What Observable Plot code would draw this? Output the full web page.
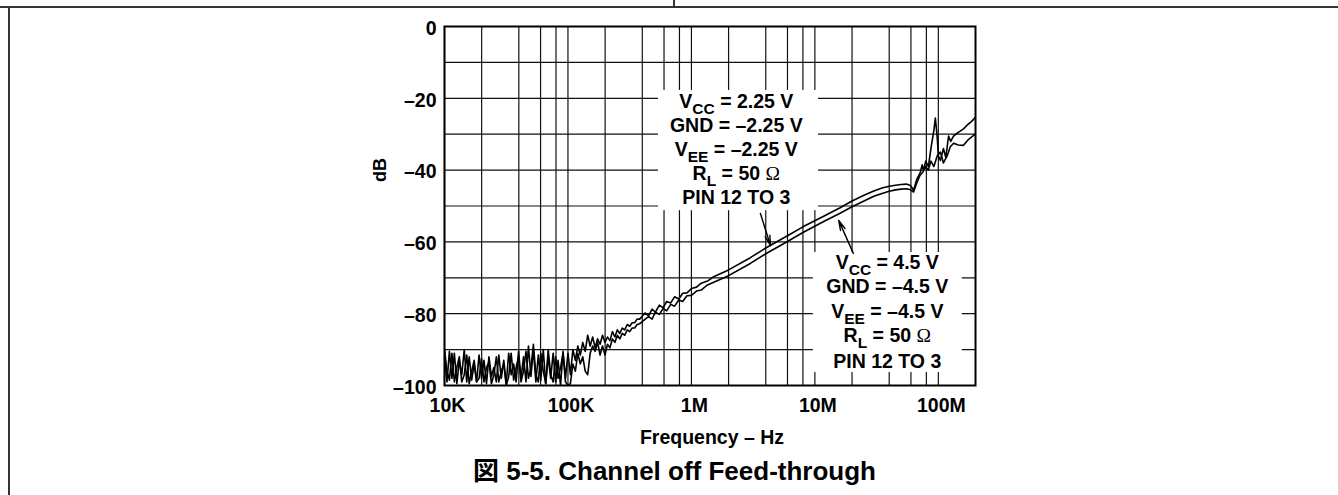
<!DOCTYPE html>
<html><head><meta charset="utf-8">
<script src="https://cdn.jsdelivr.net/npm/d3@7"></script>
<script src="https://cdn.jsdelivr.net/npm/@observablehq/plot@0.6"></script>
<style>
body{margin:0;background:#fff;}
#wrap{position:relative;width:1338px;height:495px;overflow:hidden;background:#fff;}
#wrap svg{position:absolute;left:0;top:0;}
.bl{position:absolute;background:#333;z-index:2;}
</style></head><body>
<div id="wrap">
<div class="bl" style="left:0;top:6px;width:1338px;height:1.5px"></div>
<div class="bl" style="left:8px;top:6px;width:1.5px;height:489px"></div>
<div class="bl" style="left:673px;top:0;width:1.5px;height:7px"></div>
</div>
<script>
// ---- data ----
const xTickVals = [1e4, 1e5, 1e6, 1e7, 1e8];
const xTickLabels = ["10K", "100K", "1M", "10M", "100M"];
const yTickVals = [0, -20, -40, -60, -80, -100];
const yTickLabels = ["0", "–20", "–40", "–60", "–80", "–100"];
const xGrid = [1e4,2e4,4e4,6e4,8e4,1e5,2e5,4e5,6e5,8e5,1e6,2e6,4e6,6e6,8e6,1e7,2e7,4e7,6e7,8e7,1e8];
const yGrid = [-90,-80,-70,-60,-50,-40,-30,-20,-10];

const noiseFreq = [10000,10470,10960,11480,12020,12590,13180,13800,14450,15140,
15850,16600,17380,18200,19050,19950,20890,21880,22910,23990,
25120,26300,27540,28840,30200,31620,33110,34670,36310,38020,
39810,41690,43650,45710,47860,50120,52480,54950,57540,60260,
63100,66070,69180,72440,75860,79430,83180,87100,91200,95500,
100000,104700,109600,114800,120200,125900,131800,138000,144500,151400,
158500,166000,173800,182000,190500,199500,208900,218800,229100,239900,
251200,263000,275400,288400,302000,316200,331100,346700,363100,380200,398100];
const noiseA = [-92,-99,-90.5,-98,-91,-99.5,-93,-97,-90,-99,
-92,-98.5,-94,-99,-91.5,-98,-93,-99.5,-92,-97.5,
-95,-99,-91.5,-98,-93,-99.5,-91,-97,-94,-99,
-90.5,-98,-92,-99,-89,-97.5,-90,-99,-91.5,-98.5,
-90,-99.5,-92,-98,-91,-99,-93,-100,-90.5,-98,
-91,-97,-90,-93,-89,-91.5,-88,-90.5,-86,-89,
-86.5,-89.5,-87,-88.5,-86,-88,-86.5,-87.5,-85,-86.5,
-84.5,-85.5,-84,-84.5,-83,-83.5,-82.5,-82.5,-81.5,-81.5,-80.8];
const noiseB = [-90,-96,-98.5,-91,-99,-95,-92,-99,-97,-91.5,
-99.5,-96,-93,-99,-98,-92.5,-99,-95,-93.5,-99.5,
-97,-92,-99,-96,-94,-100,-97.5,-91,-98.5,-95,
-92,-99,-96,-90.5,-98,-95,-88.5,-97,-99,-91,
-96,-99.5,-90,-97,-99,-92,-98,-95,-91,-99,
-100,-99.5,-94,-96,-91,-94,-92,-96,-97,-91,
-89,-90.5,-88,-91.5,-89,-91.5,-88.5,-89.5,-87,-88,
-86,-87,-85.5,-86,-84.5,-85,-84,-84,-83,-82.8,-82.3];

const lineFreq = [4.2e5,4.5e5,4.8e5,5.1e5,5.5e5,5.9e5,6.3e5,6.8e5,7.3e5,7.9e5,8.5e5,9.2e5,1.0e6,1.1e6,1.2e6,1.35e6,1.5e6,
2e6,3e6,4e6,6e6,8e6,1.2e7,1.6e7,2e7,2.5e7,3e7,3.5e7,4e7,4.5e7,5e7,5.5e7,5.9e7,6.1e7,6.3e7];
const lineA = [-79.8,-80.6,-78.7,-79.6,-77.6,-78.4,-76.6,-77.0,-75.3,-75.9,-74.3,-74.2,-73.0,-72.6,-71.5,-70.9,-69.8,
-67.8,-64.4,-61.7,-58.3,-55.8,-52.7,-50.5,-48.6,-47.0,-45.8,-45.0,-44.5,-44.2,-44.0,-43.9,-44.2,-44.8,-45.7];
const lineB = [-81.6,-80.8,-81.5,-79.6,-80.2,-78.5,-79.2,-77.4,-77.9,-76.2,-76.6,-75.0,-74.9,-73.7,-73.4,-72.0,-71.3,
-69.4,-66.0,-63.3,-59.9,-57.4,-54.2,-52.0,-50.2,-48.6,-47.3,-46.5,-45.9,-45.5,-45.3,-45.2,-45.4,-45.8,-46.1];

const tailFreqA = [6.7e7,7.15e7,7.4e7,7.6e7,7.9e7,8.3e7,8.8e7,9.2e7,9.46e7,9.8e7,1.0e8,1.04e8,1.1e8,1.15e8,1.21e8,1.26e8,1.33e8,1.45e8,1.6e8,1.71e8,1.85e8,2.0e8];
const tailA = [-42.5,-40.6,-38.5,-40,-37.5,-39,-33,-29,-25.5,-31,-36,-37.3,-34,-36.5,-30.5,-32,-30.5,-29.5,-28.5,-27.5,-26.5,-25.3];
const tailFreqB = [6.7e7,7.1e7,7.5e7,7.9e7,8.3e7,8.7e7,9.2e7,9.8e7,1.04e8,1.1e8,1.18e8,1.25e8,1.33e8,1.45e8,1.6e8,1.75e8,2.0e8];
const tailB = [-43.5,-41.5,-40.5,-39,-40,-37.5,-39,-36,-35,-38,-36,-33.5,-32.5,-33,-33.1,-31.5,-29.9];

const label1Lines = ["V{CC} = 2.25 V", "GND = –2.25 V", "V{EE} = –2.25 V", "R{L} = 50 Ω", "PIN 12 TO 3"];
const label2Lines = ["V{CC} = 4.5 V", "GND = –4.5 V", "V{EE} = –4.5 V", "R{L} = 50 Ω", "PIN 12 TO 3"];
const label1Pos = {x: 2.31e6, y: [-20.9, -27.6, -34.3, -41.0, -47.6]};
const label2Pos = {x: 3.86e7, y: [-65.9, -72.6, -79.4, -86.1, -93.3]};
const boxes = [
  {x1: 5.41e5, x2: 1.07e7, y1: -17.8, y2: -51.3},
  {x1: 9.72e6, x2: 1.563e8, y1: -62.95, y2: -96.4}
];
const arrows = [
  {x1: 3.62e6, y1: -52.1, x2: 4.37e6, y2: -61.0},
  {x1: 2.05e7, y1: -63.2, x2: 1.56e7, y2: -54.0}
];

// ---- build ----
const seriesA = [...noiseFreq.map((f,i)=>({f, db: noiseA[i]})), ...lineFreq.map((f,i)=>({f, db: lineA[i]})), ...tailFreqA.map((f,i)=>({f, db: tailA[i]}))];
const seriesB = [...noiseFreq.map((f,i)=>({f, db: noiseB[i]})), ...lineFreq.map((f,i)=>({f, db: lineB[i]})), ...tailFreqB.map((f,i)=>({f, db: tailB[i]}))];
const lab1 = label1Lines.map((t,i)=>({t, x: label1Pos.x, y: label1Pos.y[i]}));
const lab2 = label2Lines.map((t,i)=>({t, x: label2Pos.x, y: label2Pos.y[i]}));

const FONT = "'Liberation Sans', Arial, Helvetica, 'Noto Sans CJK JP', sans-serif";
const B = "bold";

const chart = Plot.plot({
  width: 1338, height: 495,
  marginLeft: 444, marginRight: 363, marginTop: 26, marginBottom: 110,
  x: {type: "log", domain: [1e4, 2e8], axis: null},
  y: {domain: [-100, 0], axis: null},
  style: {fontFamily: FONT, fontWeight: "bold", background: "transparent", color: "#000"},
  marks: [
    Plot.ruleX(xGrid, {stroke: "#111", strokeWidth: 1.2}),
    Plot.ruleY(yGrid, {stroke: "#111", strokeWidth: 1.2}),
    Plot.rect(boxes, {x1: "x1", x2: "x2", y1: "y1", y2: "y2", fill: "white"}),
    Plot.frame({stroke: "#000", strokeWidth: 2}),
    Plot.line(seriesA, {x: "f", y: "db", stroke: "#000", strokeWidth: 1.6, clip: true}),
    Plot.line(seriesB, {x: "f", y: "db", stroke: "#000", strokeWidth: 1.6, clip: true}),
    Plot.arrow(arrows, {x1: "x1", y1: "y1", x2: "x2", y2: "y2", stroke: "#000", strokeWidth: 1.4, headLength: 11, headAngle: 28}),
    Plot.text(lab1, {x: "x", y: "y", text: "t", fontSize: 19.5, fontWeight: B, fill: "#000"}),
    Plot.text(lab2, {x: "x", y: "y", text: "t", fontSize: 19.5, fontWeight: B, fill: "#000"}),
    Plot.text(xTickVals, {x: d => d, text: (d, i) => xTickLabels[i], frameAnchor: "bottom", dy: 26, dx: 3, fontSize: 19.5, fontWeight: B, fill: "#000"}),
    Plot.text(yTickVals, {y: d => d, text: (d, i) => yTickLabels[i], frameAnchor: "left", dx: -8, dy: 2, textAnchor: "end", fontSize: 19.5, fontWeight: B, fill: "#000"}),
    Plot.text(["dB"], {text: d => d, frameAnchor: "left", dx: -64, dy: -24, rotate: -90, fontSize: 18, fontWeight: B, fill: "#000"}),
    Plot.text(["Frequency – Hz"], {text: d => d, frameAnchor: "bottom", dx: 2, dy: 58, fontSize: 19.5, fontWeight: B, fill: "#000"}),
    Plot.text(["図 5-5. Channel off Feed-through"], {text: d => d, frameAnchor: "bottom", dx: -35.5, dy: 94, fontSize: 26, fontWeight: B, fill: "#000"})
  ]
});

// subscripts and Ω glyph
const NS = "http://www.w3.org/2000/svg";
chart.querySelectorAll("text").forEach(t => {
  const s = t.textContent;
  if (!/[{Ω]/.test(s)) return;
  t.textContent = "";
  let shifted = false;
  for (const p of s.split(/(\{[^}]*\}|Ω)/)) {
    if (!p) continue;
    const ts = document.createElementNS(NS, "tspan");
    if (p.startsWith("{")) {
      ts.textContent = p.slice(1, -1);
      ts.setAttribute("font-size", "15.5");
      ts.setAttribute("dy", "6");
      shifted = true;
    } else if (p === "Ω") {
      ts.textContent = "Ω";
      ts.setAttribute("font-weight", "normal");
      ts.setAttribute("font-family", "'Liberation Serif', 'DejaVu Serif', serif");
      if (shifted) { ts.setAttribute("dy", "-6"); shifted = false; }
    } else {
      ts.textContent = p;
      if (shifted) { ts.setAttribute("dy", "-6"); shifted = false; }
    }
    t.appendChild(ts);
  }
});

document.getElementById("wrap").appendChild(chart);
</script>
</body></html>
